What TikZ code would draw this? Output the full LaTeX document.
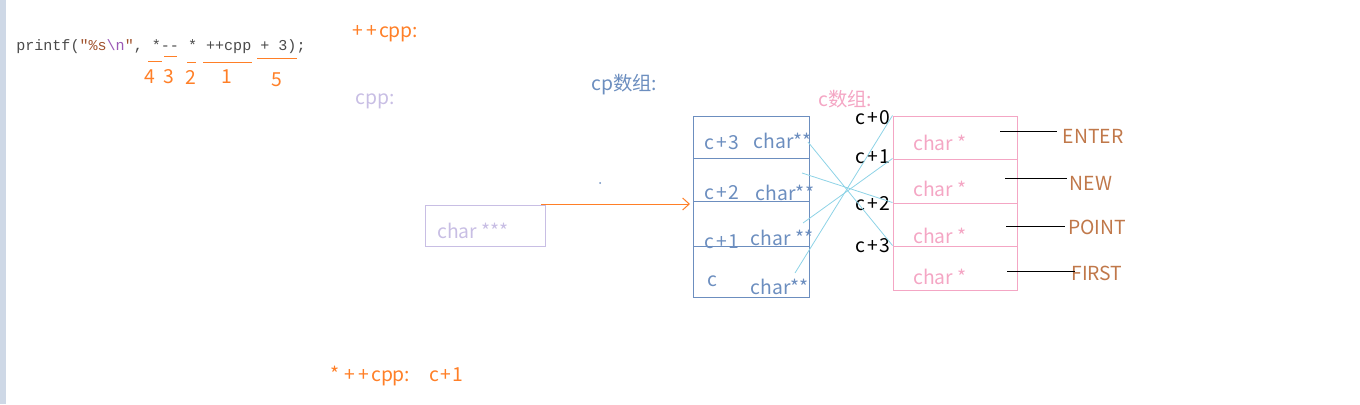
\documentclass[tikz,border=0pt]{standalone}
\usepackage{fontspec}
\setmainfont{Noto Sans CJK SC}
\setmonofont{Liberation Mono}
\usetikzlibrary{arrows.meta}
\definecolor{cpblue}{HTML}{6C8EBF}
\definecolor{pinkc}{HTML}{F4A6C4}
\definecolor{lav}{HTML}{C8BEE4}
\definecolor{orng}{HTML}{FF7F27}
\definecolor{brn}{HTML}{C0784A}
\definecolor{sky}{HTML}{8DD3E6}
\definecolor{strip}{HTML}{CED8E6}
\definecolor{codegray}{HTML}{4A4A4A}
\definecolor{strcol}{HTML}{A0522D}
\definecolor{esccol}{HTML}{9B59B6}
\newcommand{\pl}{\kern1.2pt+\kern1.2pt}
\tikzset{
  lbl/.style={inner sep=0pt, font=\fontsize{14.5}{16}\selectfont},
  cpcell/.style={draw=cpblue, line width=0.75pt, minimum width=87pt, inner sep=0pt},
  ccell/.style={draw=pinkc, line width=0.75pt, minimum width=93pt, inner sep=0pt},
  uline/.style={draw=orng, line width=0.75pt},
  link/.style={draw=sky, line width=0.6pt},
  tick/.style={draw=black, line width=0.75pt}
}
\begin{document}
\begin{tikzpicture}[x=0.75pt,y=-0.75pt]
\useasboundingbox (0,0) rectangle (1360,404);
\fill[strip] (0,0) rectangle (6,404);
% code line
\node[lbl, anchor=west, text=codegray, font=\ttfamily\fontsize{11.3}{13}\selectfont] (code) at (16,47)
 {printf(\textcolor{strcol}{"}\textcolor{strcol}{\%s}\textcolor{esccol}{\textbackslash n}\textcolor{strcol}{"}, *-- * ++cpp + 3);};
\draw[uline] (148,61) -- (162,61);
\draw[uline] (164,56) -- (177,56);
\draw[uline] (187,62) -- (196,62);
\draw[uline] (203,62) -- (252,62);
\draw[uline] (257,58) -- (297,58);
\node[lbl, text=orng] (n4) at (150,77) {4};
\node[lbl, text=orng] (n3) at (169,77) {3};
\node[lbl, text=orng] (n2) at (191,77) {2};
\node[lbl, text=orng] (n1) at (227,77) {1};
\node[lbl, text=orng] (n5) at (277,80) {5};
% titles
\node[lbl, anchor=west, text=orng] (ppcpp) at (351,34) {\pl\pl cpp:};
\node[lbl, anchor=west, text=lav] (cpplbl) at (355,101) {cpp:};
\node[lbl, anchor=west, text=cpblue] (cplbl) at (591,85) {cp数组:};
\node[lbl, anchor=west, text=pinkc] (clbl) at (818,99) {c数组:};
% cpp box
\node[draw=lav, line width=0.75pt, minimum width=90pt, minimum height=30.75pt, inner sep=0pt] (cppbox) at (485,225.5) {};
\node[lbl, anchor=west, text=lav] (cpptxt) at (437,231) {char ***};
\fill[cpblue] (600,183) circle (1);
\coordinate (arrS) at (541,204);
\coordinate (arrE) at (690,204);
\draw[orng, line width=0.75pt, -{Straight Barb[length=5pt,width=9pt]}] (arrS) -- (arrE);
% cp array
\node[cpcell, minimum height=31.5pt] (cp3) at (751,137) {};
\node[cpcell, minimum height=32.25pt] (cp2) at (751,179.5) {};
\node[cpcell, minimum height=33.75pt] (cp1) at (751,223.5) {};
\node[cpcell, minimum height=38.25pt] (cp0) at (751,271.5) {};
\node[lbl, text=cpblue] (cp3a) at (722,143) {c\pl3};
\node[lbl, text=cpblue] (cp3b) at (783,141) {char**};
\node[lbl, text=cpblue] (cp2a) at (722,193) {c\pl2};
\node[lbl, text=cpblue] (cp2b) at (785,193) {char**};
\node[lbl, text=cpblue] (cp1a) at (722,242) {c\pl1};
\node[lbl, text=cpblue] (cp1b) at (782,238) {char **};
\node[lbl, text=cpblue] (cp0a) at (712,281) {c};
\node[lbl, text=cpblue] (cp0b) at (780,287) {char**};
% c array
\node[ccell, minimum height=32.25pt] (c0) at (955,137.5) {};
\node[ccell, minimum height=33pt] (c1) at (955,181) {};
\node[ccell, minimum height=32.25pt] (c2) at (955,224.5) {};
\node[ccell, minimum height=33pt] (c3) at (955,268) {};
\node[lbl, text=pinkc] (c0t) at (940,143) {char *};
\node[lbl, text=pinkc] (c1t) at (940,189) {char *};
\node[lbl, text=pinkc] (c2t) at (940,236) {char *};
\node[lbl, text=pinkc] (c3t) at (940,277) {char *};
\node[lbl] (ca0) at (873,118) {c\pl0};
\node[lbl] (ca1) at (873,157) {c\pl1};
\node[lbl] (ca2) at (873,204) {c\pl2};
\node[lbl] (ca3) at (873,246) {c\pl3};
% links
\coordinate (s3) at (808,142);
\coordinate (s2) at (802,173);
\coordinate (s1) at (803,223);
\coordinate (s0) at (795,273);
\draw[link] (s3) -- (c3.north west);
\draw[link] (s2) -- (c2.north west);
\draw[link] (s1) -- (c1.north west);
\draw[link] (s0) -- (c0.north west);
% strings
\node[lbl, text=brn] (w0) at (1093,136) {ENTER};
\node[lbl, text=brn] (w1) at (1091,183) {NEW};
\node[lbl, text=brn] (w2) at (1097,227) {POINT};
\node[lbl, text=brn] (w3) at (1097,273) {FIRST};
\coordinate (t0) at (1000,131);
\coordinate (t1) at (1005,178);
\coordinate (t2) at (1006,226);
\coordinate (t3) at (1007,271);
\coordinate (e0) at (1057,131);
\coordinate (e1) at (1067,178);
\coordinate (e2) at (1065,226);
\coordinate (e3) at (1075,271);
\draw[tick] (t0) -- (e0);
\draw[tick] (t1) -- (e1);
\draw[tick] (t2) -- (e2);
\draw[tick] (t3) -- (e3);
% bottom
\node[lbl, anchor=west, text=orng] (bot) at (330,376) {*\kern3pt\pl\pl cpp:\kern14pt c\pl1};
\end{tikzpicture}
\end{document}
